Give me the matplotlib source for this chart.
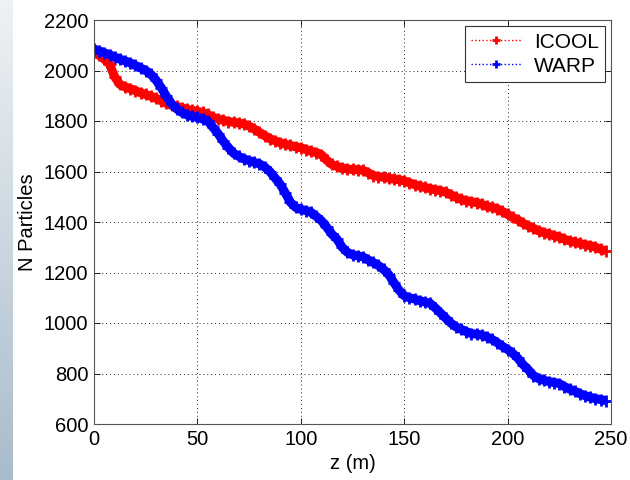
import numpy as np
import matplotlib
matplotlib.use("Agg")
import matplotlib.pyplot as plt
from matplotlib.colors import LinearSegmentedColormap

plt.rcParams["font.family"] = ["Liberation Sans", "DejaVu Sans"]

# sample positions along z (m)
z = np.arange(0, 250, 2.5)

icool = [
    2072, 2060, 2045, 2025, 1975, 1945, 1935, 1928, 1920, 1912,
    1905, 1898, 1890, 1880, 1870, 1862, 1858, 1852, 1846, 1842,
    1838, 1834, 1826, 1815, 1808, 1803, 1798, 1795, 1792, 1788,
    1780, 1768, 1755, 1742, 1730, 1722, 1714, 1708, 1703, 1698,
    1694, 1687, 1680, 1675, 1666, 1645, 1628, 1620, 1614, 1610,
    1608, 1607, 1605, 1595, 1584, 1580, 1577, 1574, 1570, 1567,
    1563, 1555, 1548, 1542, 1537, 1532, 1528, 1524, 1518, 1508,
    1498, 1490, 1484, 1480, 1477, 1470, 1462, 1458, 1452, 1442,
    1430, 1418, 1408, 1395, 1385, 1375, 1365, 1358, 1352, 1346,
    1340, 1332, 1325, 1320, 1315, 1310, 1306, 1300, 1292, 1284,
]

warp = [
    2085, 2078, 2070, 2063, 2053, 2045, 2038, 2030, 2020, 2010,
    2000, 1985, 1962, 1932, 1898, 1868, 1848, 1834, 1824, 1818,
    1814, 1808, 1800, 1775, 1750, 1720, 1695, 1672, 1660, 1650,
    1643, 1636, 1630, 1618, 1600, 1575, 1550, 1515, 1478, 1458,
    1450, 1445, 1438, 1422, 1405, 1380, 1352, 1332, 1300, 1280,
    1270, 1266, 1262, 1250, 1240, 1228, 1212, 1192, 1160, 1130,
    1108, 1100, 1095, 1088, 1083, 1078, 1060, 1040, 1020, 1000,
    985, 975, 966, 958, 956, 952, 945, 935, 922, 908,
    895, 880, 860, 835, 815, 792, 780, 773, 768, 764,
    760, 748, 738, 730, 720, 712, 706, 700, 697, 692,
]

fig = plt.figure(figsize=(6.3, 4.8), dpi=100)

# light gradient strip at the left edge
strip = fig.add_axes([0, 0, 12 / 630, 1])
grad = np.linspace(0, 1, 256).reshape(-1, 1)
cmap = LinearSegmentedColormap.from_list("strip", ["#eef2f5", "#a9bccb"])
strip.imshow(grad, aspect="auto", cmap=cmap, extent=[0, 1, 0, 1], origin="upper")
strip.axis("off")

ax = fig.add_axes([94 / 630, 1 - 424 / 480, (611 - 94) / 630, (424 - 20) / 480])
for vals, col, name in [(icool, "#ff0000", "ICOOL"), (warp, "#0000ff", "WARP")]:
    # dense markers in the original merge into a thick band
    ax.plot(z, vals, color=col, linewidth=6.5, solid_capstyle="butt",
            solid_joinstyle="round")
    ax.plot(z, vals, color=col, linestyle=":", linewidth=1,
            marker="+", markersize=8, markeredgewidth=2, label=name)

ax.set_xlim(0, 250)
ax.set_ylim(600, 2200)
ax.set_xticks(range(0, 251, 50))
ax.set_yticks(range(600, 2201, 200))
ax.set_axisbelow(True)
ax.grid(True, linestyle=(0, (1, 3)), color="#222222", linewidth=0.7)
ax.tick_params(direction="in", top=True, right=True, labelsize=14.5, length=4,
               width=0.6, pad=4)
for s in ax.spines.values():
    s.set_linewidth(0.8)
    s.set_color("#555555")
ax.set_xlabel("z (m)", fontsize=14.5, labelpad=4)
ax.set_ylabel("N Particles", fontsize=14.5, labelpad=5)

leg = ax.legend(loc="upper right", fontsize=15, fancybox=False, framealpha=1,
                edgecolor="#333333", borderaxespad=0.3, handlelength=2.4,
                markerscale=0.8, borderpad=0.3, labelspacing=0.25,
                handletextpad=0.6)
leg.get_frame().set_linewidth(0.8)

fig.savefig("out.png", dpi=100)
